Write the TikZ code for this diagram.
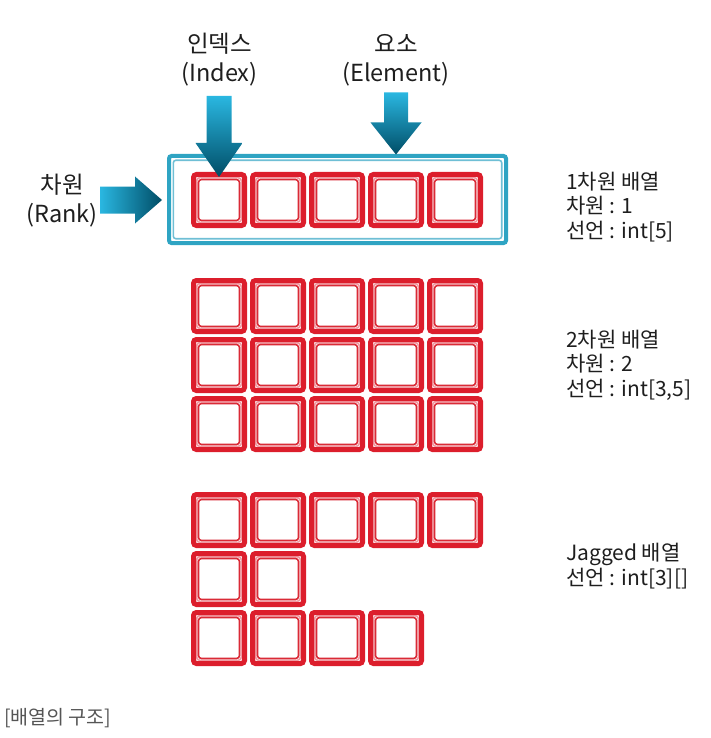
\documentclass[tikz,border=0pt]{standalone}
\usepackage{fontspec}
\setmainfont{Noto Sans CJK KR}
\definecolor{cellred}{HTML}{DC1E2C}
\definecolor{cellpink}{HTML}{F09AA2}
\definecolor{cellmid}{HTML}{DA2A36}
\definecolor{frameteal}{HTML}{2FA4C3}
\definecolor{framelight}{HTML}{6FBFD5}
\definecolor{arrowlight}{HTML}{2AB7E1}
\definecolor{arrowdark}{HTML}{004D66}
\definecolor{txt}{HTML}{1E1E1E}
\definecolor{captxt}{HTML}{555555}
\begin{document}
\begin{tikzpicture}[x=1pt,y=-1pt,
  cell/.style={draw=cellred, line width=5pt, rounded corners=3pt, minimum size=51pt, inner sep=0pt, fill=white,
    path picture={
      \draw[cellpink, line width=1.6pt] ([xshift=3.2pt,yshift=-3.2pt]path picture bounding box.north west) rectangle ([xshift=-3.2pt,yshift=3.2pt]path picture bounding box.south east);
      \draw[cellmid, line width=1.6pt] ([xshift=5pt,yshift=-5pt]path picture bounding box.north west) rectangle ([xshift=-5pt,yshift=5pt]path picture bounding box.south east);
    }},
  frame/.style={draw=frameteal, line width=4pt, rounded corners=2.5pt, minimum width=337pt, minimum height=87pt, inner sep=0pt,
    path picture={
      \draw[framelight, line width=1.6pt] ([xshift=4.3pt,yshift=-4.3pt]path picture bounding box.north west) rectangle ([xshift=-4.3pt,yshift=4.3pt]path picture bounding box.south east);
    }},
  lab/.style={align=center, inner sep=0pt, text=txt, font=\fontsize{23.5}{29}\selectfont},
  info/.style={align=left, anchor=west, inner sep=0pt, text=txt, font=\fontsize{21}{24.5}\selectfont},
  downarrow/.style={top color=arrowlight, bottom color=arrowdark},
  rightarrow/.style={left color=arrowlight, right color=arrowdark}
]
\useasboundingbox (0,0) rectangle (710,738);
% frame around the 1D array
\node[frame] (frame) at (337.5,199.5) {};
% 1D array
\foreach \i in {1,...,5} {
  \node[cell] (a\i) at ({219+59*(\i-1)},200) {};
}
% 2D array
\foreach \r/\y in {1/306,2/365,3/424} {
  \foreach \i in {1,...,5} {
    \node[cell] (b\r\i) at ({219+59*(\i-1)},\y) {};
  }
}
% jagged array
\foreach \i in {1,...,5} { \node[cell] (j1\i) at ({219+59*(\i-1)},520) {}; }
\foreach \i in {1,2} { \node[cell] (j2\i) at ({219+59*(\i-1)},579) {}; }
\foreach \i in {1,...,4} { \node[cell] (j3\i) at ({219+59*(\i-1)},638) {}; }
% labels
\node[lab] (idx) at (219.5,60) {인덱스\\(Index)};
\node[lab] (elem) at (396,60) {요소\\(Element)};
\node[lab] (rank) at (62,201) {차원\\(Rank)};
% arrows
\coordinate (idxtip) at ([yshift=-5pt]a1.north);
\coordinate (eltip) at ([yshift=-0.5pt]frame.north -| a4);
\coordinate (rktip) at ([xshift=-5pt]frame.west |- a1);
\shade[downarrow] (idxtip) -- ++(23.5,-34) -- ++(-11,0) -- ++(0,-47) -- ++(-25,0) -- ++(0,47) -- ++(-11,0) -- cycle;
\shade[downarrow] (eltip) -- ++(25.5,-32) -- ++(-13.5,0) -- ++(0,-30) -- ++(-24,0) -- ++(0,30) -- ++(-13.5,0) -- cycle;
\shade[rightarrow] (rktip) -- ++(-27,-23.5) -- ++(0,10) -- ++(-35,0) -- ++(0,27) -- ++(35,0) -- ++(0,10) -- cycle;
% info texts
\node[info] (i1) at (566,207) {1차원 배열\\차원 : 1\\선언 : int[5]};
\node[info] (i2) at (566,365) {2차원 배열\\차원 : 2\\선언 : int[3,5]};
\node[info] (i3) at (566,566) {Jagged 배열\\선언 : int[3][]};
% caption
\node[anchor=west, inner sep=0pt, text=captxt, font=\fontsize{19.5}{22}\selectfont] (cap) at (4,718) {[배열의 구조]};
\end{tikzpicture}
\end{document}
